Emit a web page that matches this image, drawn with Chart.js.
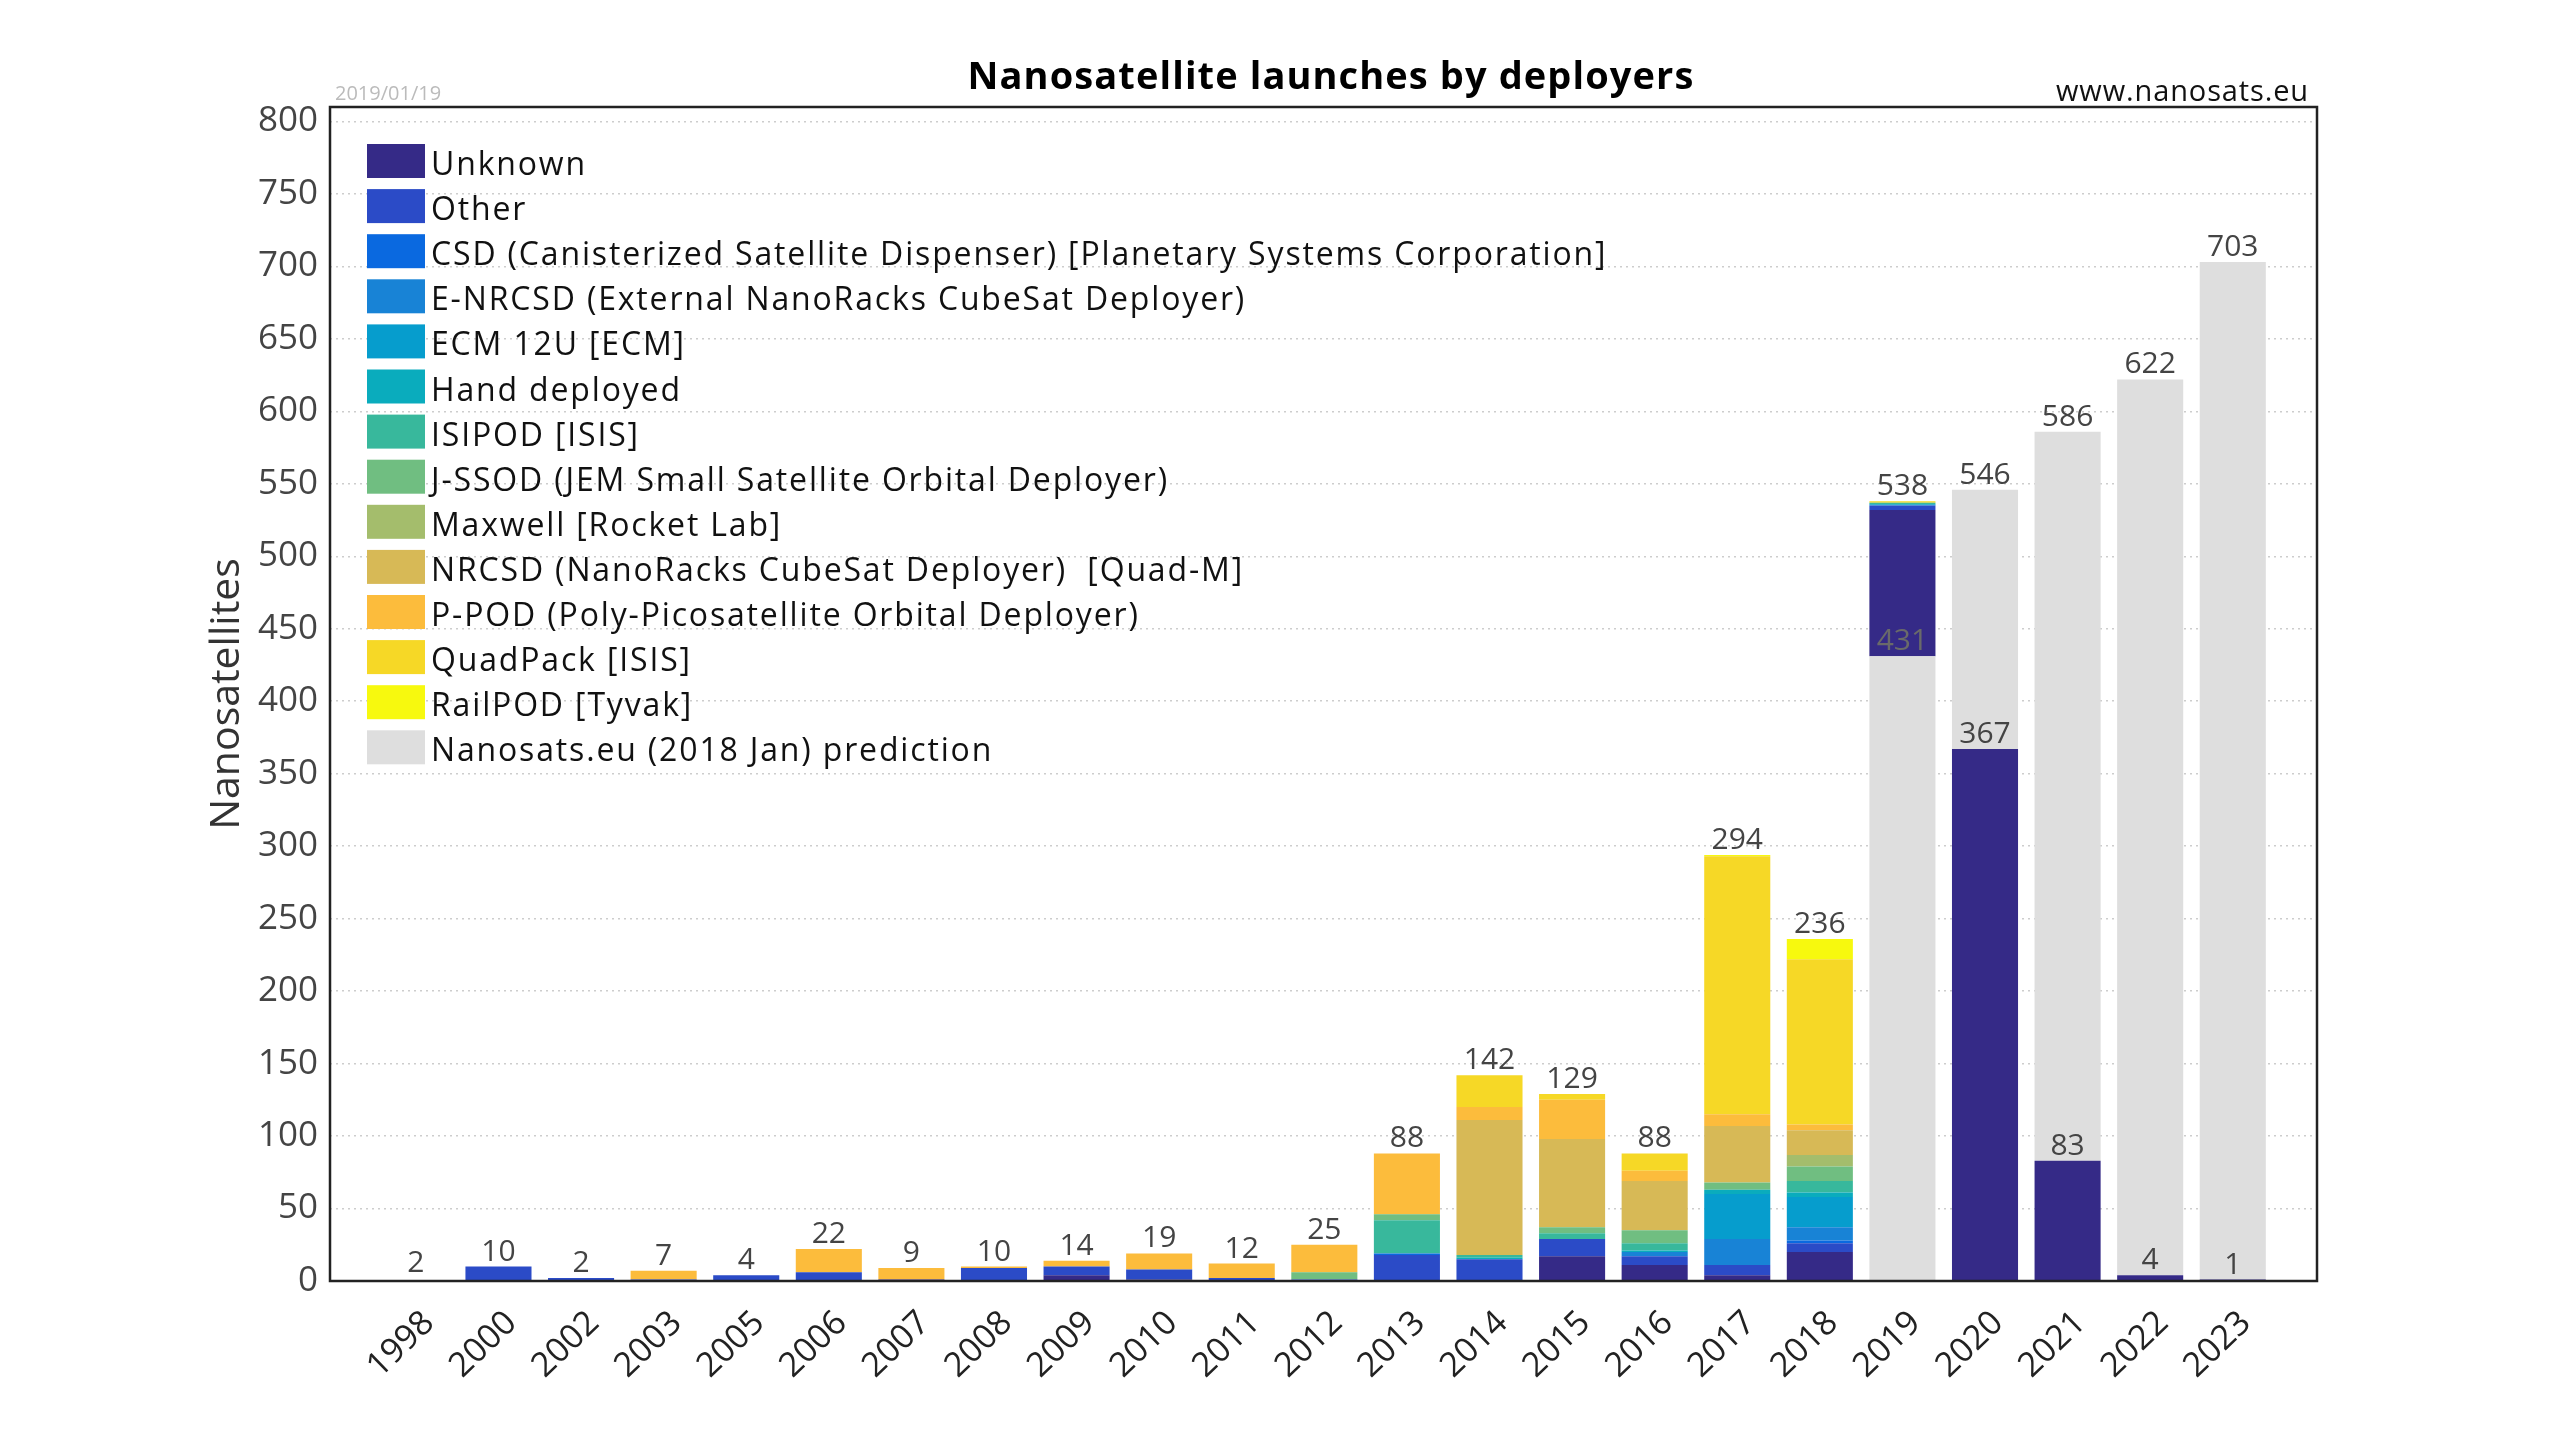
<!DOCTYPE html>
<html>
<head>
<meta charset="utf-8">
<title>Nanosatellite launches by deployers</title>
<script src="https://cdn.jsdelivr.net/npm/chart.js@4.4.1/dist/chart.umd.min.js"></script>
<style>
    html, body { margin: 0; padding: 0; background: #fff; }
    #wrap { width: 2560px; height: 1440px; position: relative; }
</style>
</head>
<body>
<div id="wrap"><canvas id="chart"></canvas></div>
<script>
// Years on the x axis
const years = ['1998', '2000', '2002', '2003', '2005', '2006', '2007', '2008', '2009', '2010', '2011', '2012',
               '2013', '2014', '2015', '2016', '2017', '2018', '2019', '2020', '2021', '2022', '2023'];

// Launches per deployer
const unknown   = [0, 0, 0, 0, 0, 0, 1, 0, 4, 1, 0, 0, 0, 0, 17, 11, 4, 20, 101, 367, 83, 4, 1];
const other     = [0, 10, 2, 1, 4, 6, 0, 9, 6, 7, 2, 1, 18, 15, 12, 6, 7, 6, 3, 0, 0, 0, 0];
const csd       = [0, 0, 0, 0, 0, 0, 0, 0, 0, 0, 0, 0, 1, 0, 0, 0, 0, 2, 0, 0, 0, 0, 0];
const enrcsd    = [0, 0, 0, 0, 0, 0, 0, 0, 0, 0, 0, 0, 0, 0, 0, 3, 18, 9, 0, 0, 0, 0, 0];
const ecm12u    = [0, 0, 0, 0, 0, 0, 0, 0, 0, 0, 0, 0, 0, 0, 0, 0, 31, 21, 1, 0, 0, 0, 0];
const hand      = [0, 0, 0, 0, 0, 0, 0, 0, 0, 0, 0, 0, 0, 1, 0, 1, 3, 3, 0, 0, 0, 0, 0];
const isipod    = [0, 0, 0, 0, 0, 0, 0, 0, 0, 0, 0, 0, 23, 2, 4, 5, 0, 8, 1, 0, 0, 0, 0];
const jssod     = [0, 0, 0, 0, 0, 0, 0, 0, 0, 0, 0, 5, 4, 0, 4, 9, 5, 10, 0, 0, 0, 0, 0];
const maxwell   = [0, 0, 0, 0, 0, 0, 0, 0, 0, 0, 0, 0, 0, 0, 0, 0, 0, 8, 0, 0, 0, 0, 0];
const nrcsd     = [0, 0, 0, 0, 0, 0, 0, 0, 0, 0, 0, 0, 0, 93, 61, 34, 39, 17, 0, 0, 0, 0, 0];
const ppod      = [0, 0, 0, 6, 0, 16, 8, 1, 4, 11, 10, 19, 42, 9, 27, 7, 8, 4, 0, 0, 0, 0, 0];
const quadpack  = [0, 0, 0, 0, 0, 0, 0, 0, 0, 0, 0, 0, 0, 22, 4, 12, 178, 114, 1, 0, 0, 0, 0];
const railpod   = [0, 0, 0, 0, 0, 0, 0, 0, 0, 0, 0, 0, 0, 0, 0, 0, 1, 14, 0, 0, 0, 0, 0];

// Nanosats.eu (2018 Jan) prediction, total per year
const prediction = [null, null, null, null, null, null, null, null, null, null, null, null,
                    null, null, null, null, null, null, 538, 546, 586, 622, 703];
// years where the prediction remainder sits under the launched part
const predictionBelow = ['2019'];

// Numbers printed above the bars
const launchTotals = [2, 10, 2, 7, 4, 22, 9, 10, 14, 19, 12, 25, 88, 142, 129, 88, 294, 236, 538, 546, 586, 622, 703];

// y axis ticks
const yTicks = [0, 50, 100, 150, 200, 250, 300, 350, 400, 450, 500, 550, 600, 650, 700, 750, 800];

const FONT = '"Open Sans", Lato, sans-serif';

const deployers = [
    { label: 'Unknown', data: unknown, color: '#352a87' },
    { label: 'Other', data: other, color: '#2b4bc7' },
    { label: 'CSD (Canisterized Satellite Dispenser) [Planetary Systems Corporation]', data: csd, color: '#0a69e0' },
    { label: 'E-NRCSD (External NanoRacks CubeSat Deployer)', data: enrcsd, color: '#1883d6' },
    { label: 'ECM 12U [ECM]', data: ecm12u, color: '#069dcd' },
    { label: 'Hand deployed', data: hand, color: '#0aacbd' },
    { label: 'ISIPOD [ISIS]', data: isipod, color: '#38b89c' },
    { label: 'J-SSOD (JEM Small Satellite Orbital Deployer)', data: jssod, color: '#70be81' },
    { label: 'Maxwell [Rocket Lab]', data: maxwell, color: '#a4bd6c' },
    { label: 'NRCSD (NanoRacks CubeSat Deployer)  [Quad-M]', data: nrcsd, color: '#d7b956' },
    { label: 'P-POD (Poly-Picosatellite Orbital Deployer)', data: ppod, color: '#fcbc3c' },
    { label: 'QuadPack [ISIS]', data: quadpack, color: '#f6d826' },
    { label: 'RailPOD [Tyvak]', data: railpod, color: '#f7f90e' }
];

// launched sum per year, the prediction is stacked with the remainder
const launched = years.map((_, i) => deployers.reduce((s, d) => s + d.data[i], 0));
const predRest = prediction.map((p, i) => p === null ? null : p - launched[i]);
const predBase = predRest.map((v, i) => predictionBelow.includes(years[i]) ? v : null);
const predTop = predRest.map((v, i) => predictionBelow.includes(years[i]) ? null : v);
// label inside the prediction bars: top of the lower part
const innerLabels = prediction.map((p, i) => {
    if (p === null) return null;
    return predictionBelow.includes(years[i]) ? predRest[i] : launched[i];
});

const barStyle = { borderWidth: 0, barPercentage: 0.8, categoryPercentage: 1 };

const datasets = [
    { label: 'prediction base', data: predBase, backgroundColor: '#dedede', inLegend: false, ...barStyle },
    ...deployers.map(d => ({ label: d.label, data: d.data, backgroundColor: d.color, ...barStyle })),
    { label: 'Nanosats.eu (2018 Jan) prediction', data: predTop, backgroundColor: '#dedede', ...barStyle }
];

// подогнать ширину текста под оригинал через межбуквенный интервал
function fitSpacing(ctx, text, width) {
    ctx.letterSpacing = '0px';
    const w = ctx.measureText(text).width;
    const ls = Math.max(0, (width - w) / text.length);
    ctx.letterSpacing = ls.toFixed(2) + 'px';
}

// рамка, подписи, легенда, заголовок
const decorations = {
    id: 'decorations',
    afterDatasetsDraw(chart) {
        const { ctx, chartArea: a, scales: { x, y } } = chart;
        ctx.save();

        // numbers over the bars
        ctx.font = `30px ${FONT}`;
        ctx.textAlign = 'center';
        ctx.textBaseline = 'alphabetic';
        launchTotals.forEach((v, i) => {
            ctx.fillStyle = '#444';
            ctx.fillText(String(v), x.getPixelForValue(i), y.getPixelForValue(v) - 6);
        });
        innerLabels.forEach((v, i) => {
            if (v === null) return;
            ctx.fillStyle = predictionBelow.includes(years[i]) ? '#6a6a6a' : '#444';
            ctx.fillText(String(v), x.getPixelForValue(i), y.getPixelForValue(v) - 6);
        });

        // frame
        ctx.strokeStyle = '#222';
        ctx.lineWidth = 2.5;
        ctx.strokeRect(a.left, a.top, a.width, a.height);

        // legend
        const items = chart.data.datasets.filter(d => d.inLegend !== false);
        ctx.font = `32px ${FONT}`;
        ctx.textAlign = 'left';
        fitSpacing(ctx, deployers[2].label, 1176);
        items.forEach((d, k) => {
            const top = a.top + 37 + k * 45.1;
            ctx.fillStyle = d.backgroundColor;
            ctx.fillRect(a.left + 37, top, 58, 34);
            ctx.fillStyle = '#111';
            ctx.fillText(d.label, a.left + 101, top + 31);
        });

        // title and corner texts
        ctx.fillStyle = '#000';
        ctx.textAlign = 'center';
        ctx.font = `bold 38px ${FONT}`;
        fitSpacing(ctx, 'Nanosatellite launches by deployers', 727);
        ctx.fillText('Nanosatellite launches by deployers', 1331, 89);

        ctx.letterSpacing = '0px';
        ctx.textAlign = 'left';
        ctx.fillStyle = '#bbb';
        ctx.font = `20px ${FONT}`;
        ctx.fillText('2019/01/19', a.left + 5, 100);

        ctx.textAlign = 'right';
        ctx.fillStyle = '#111';
        ctx.font = `29px ${FONT}`;
        fitSpacing(ctx, 'www.nanosats.eu', 253);
        ctx.fillText('www.nanosats.eu', a.right - 8, 101);

        ctx.restore();
    }
};

const chart = new Chart(document.getElementById('chart'), {
    type: 'bar',
    data: {
        labels: years.map((_, i) => i),
        datasets: datasets
    },
    options: {
        responsive: true,
        maintainAspectRatio: false,
        animation: false,
        layout: {
            padding: { left: 0, right: 243, top: 107, bottom: 0 }
        },
        plugins: {
            legend: { display: false },
            title: { display: false },
            tooltip: { enabled: false }
        },
        scales: {
            x: {
                type: 'linear',
                stacked: true,
                offset: false,
                min: -1.04,
                max: 23.02,
                afterFit: s => { s.height = 159; },
                afterBuildTicks: s => { s.ticks = years.map((_, i) => ({ value: i })); },
                grid: { display: false },
                border: { display: false },
                ticks: {
                    autoSkip: false,
                    minRotation: 44,
                    maxRotation: 44,
                    padding: 14,
                    labelOffset: 13,
                    color: '#222',
                    font: { family: FONT, size: 34 },
                    callback: v => years[v] ?? ''
                }
            },
            y: {
                stacked: true,
                min: 0,
                max: 810,
                afterFit: s => { s.width = 330; },
                afterBuildTicks: s => { s.ticks = yTicks.map(v => ({ value: v })); },
                grid: { color: '#cdcdcd', lineWidth: 1.5, drawTicks: false },
                border: { display: false, dash: [2, 4] },
                ticks: {
                    padding: 12,
                    color: '#444',
                    font: { family: FONT, size: 35 }
                },
                title: {
                    display: true,
                    text: 'Nanosatellites',
                    color: '#333',
                    font: { family: FONT, size: 41 },
                    padding: { top: 203, bottom: 0 }
                }
            }
        }
    },
    plugins: [decorations]
});
</script>
</body>
</html>
